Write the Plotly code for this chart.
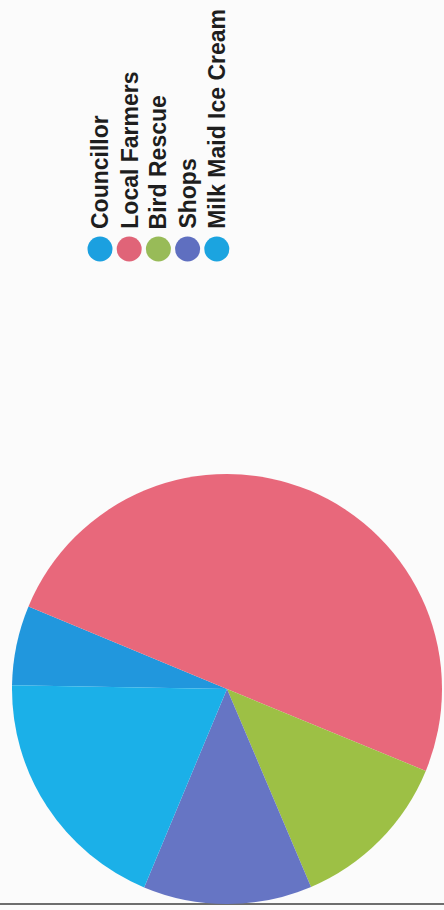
import plotly.graph_objects as go

# Scanned pie chart, page turned 90 degrees (text reads bottom-to-top)
labels = ["Councillor", "Local Farmers", "Bird Rescue", "Shops", "Milk Maid Ice Cream"]
values = [6, 50, 12.4, 12.7, 19]
slice_colors = ["#2197dd", "#e8687b", "#9dc045", "#6675c4", "#1bb0e8"]
dot_colors = ["#1ba0e0", "#e06478", "#98bb58", "#5f6fc0", "#1ba4e0"]

W, H = 444, 910

fig = go.Figure()

fig.add_trace(go.Pie(
    labels=labels,
    values=values,
    sort=False,
    direction="clockwise",
    rotation=271,
    textinfo="none",
    hoverinfo="label+value",
    marker=dict(colors=slice_colors, line=dict(width=0)),
    domain=dict(x=[12 / W, 442 / W], y=[6 / H, 436 / H]),
    showlegend=False,
))

# rotated legend: dots plus upward reading labels
leg_x0, leg_step = 100, 29.2
leg_x = [leg_x0 + i * leg_step for i in range(len(labels))]
fig.add_trace(go.Scatter(
    x=leg_x,
    y=[249] * len(labels),
    mode="markers",
    marker=dict(size=25, color=dot_colors),
    hoverinfo="skip",
    showlegend=False,
))

for xi, lab in zip(leg_x, labels):
    fig.add_annotation(
        x=xi, y=231, xref="x", yref="y",
        text="<b>%s</b>" % lab, textangle=-90, showarrow=False,
        xanchor="center", yanchor="bottom",
        font=dict(family="Liberation Sans, Arial", size=23, color="#1e1e1e"),
    )

# scanner edge along the bottom
fig.add_shape(type="line", xref="paper", yref="y", x0=0, x1=1, y0=904, y1=904,
              line=dict(color="#6e6e6e", width=2), layer="below")

fig.update_layout(
    width=W, height=H,
    margin=dict(l=0, r=0, t=0, b=0),
    paper_bgcolor="#fbfbfb",
    plot_bgcolor="rgba(0,0,0,0)",
    xaxis=dict(range=[0, W], visible=False, fixedrange=True),
    yaxis=dict(range=[H, 0], visible=False, fixedrange=True),
)

fig.write_html("out.html", config={"displayModeBar": False},
               post_script="document.body.style.margin='0';")
